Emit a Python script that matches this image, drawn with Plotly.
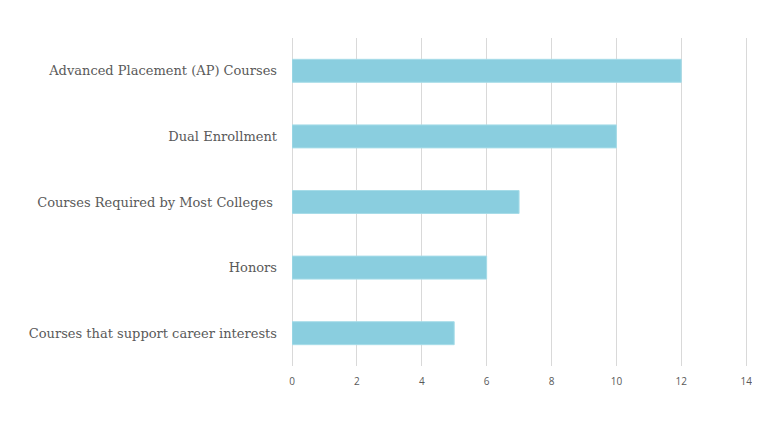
import plotly.graph_objects as go

# Categories top to bottom
categories = ['Advanced Placement (AP) Courses', 'Dual Enrollment',
              'Courses Required by Most Colleges ', 'Honors',
              'Courses that support career interests']
values = [12, 10, 7, 6, 5]
x_ticks = [0, 2, 4, 6, 8, 10, 12, 14]

fig = go.Figure(go.Bar(x=values, y=categories, orientation='h',
                       marker=dict(color='#8ACEDF', line=dict(color='#A6DCE8', width=1)),
                       width=0.35))

fig.update_layout(width=760, height=430,
                  margin=dict(l=284, r=17, t=30, b=72),
                  plot_bgcolor='white', paper_bgcolor='white',
                  showlegend=False)
fig.update_xaxes(range=[0, 14.15], tickvals=x_ticks, showgrid=True,
                 gridcolor='#D9D9D9', gridwidth=1, zeroline=True,
                 zerolinecolor='#D9D9D9', zerolinewidth=1,
                 tickfont=dict(family='Open Sans', size=10, color='#595959'),
                 ticklabelstandoff=8)
fig.update_yaxes(autorange='reversed', showgrid=False,
                 tickfont=dict(family='DejaVu Serif', size=13, color='#595959'),
                 ticklabelstandoff=14)

fig.write_html("out.html")
